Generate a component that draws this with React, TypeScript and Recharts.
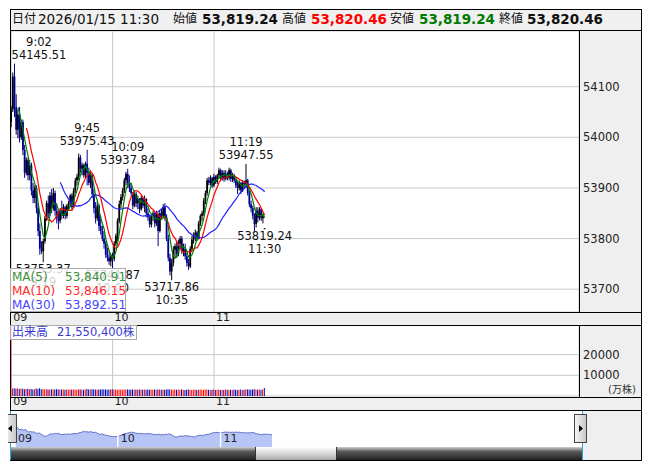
import React from "react";
import {
  ComposedChart,
  Bar,
  Line,
  XAxis,
  YAxis,
  CartesianGrid,
  ReferenceDot,
  ReferenceLine,
  Cell,
  AreaChart,
  Area,
} from "recharts";

// 1-minute candles from 9:00 to 11:30, [open, high, low, close]
const candles: [number, number, number, number][] = [
  [54030, 54062, 54020, 54055], [54055, 54128, 54050, 54120], [54120, 54145.51, 54040, 54060],
  [54060, 54085, 54005, 54015], [54015, 54055, 53998, 54045], [54045, 54060, 53990, 54000],
  [54000, 54035, 53995, 54030], [54030, 54035, 53965, 53975], [53975, 53985, 53920, 53930],
  [53930, 53960, 53925, 53955], [53955, 53960, 53915, 53925], [53925, 53955, 53915, 53945],
  [53945, 53950, 53885, 53895], [53895, 53910, 53870, 53880], [53880, 53905, 53870, 53900],
  [53900, 53905, 53850, 53860], [53860, 53870, 53805, 53815], [53815, 53830, 53768, 53780],
  [53780, 53795, 53770, 53775], [53775, 53800, 53753.37, 53795], [53795, 53845, 53790, 53840],
  [53840, 53875, 53835, 53870], [53870, 53885, 53840, 53850], [53850, 53892, 53845, 53885],
  [53885, 53898, 53850, 53860], [53860, 53900, 53855, 53890], [53890, 53895, 53845, 53855],
  [53855, 53870, 53830, 53840], [53840, 53855, 53818, 53835], [53835, 53860, 53830, 53855],
  [53855, 53875, 53838, 53845], [53845, 53868, 53840, 53862], [53862, 53865, 53838, 53845],
  [53845, 53868, 53840, 53865], [53865, 53875, 53858, 53870], [53870, 53888, 53862, 53885],
  [53885, 53890, 53855, 53862], [53862, 53900, 53860, 53895], [53895, 53920, 53890, 53915],
  [53915, 53928, 53905, 53922], [53922, 53968, 53915, 53960], [53960, 53965, 53930, 53938],
  [53938, 53950, 53925, 53945], [53945, 53948, 53920, 53925], [53925, 53952, 53920, 53948],
  [53948, 53975.43, 53905, 53930], [53930, 53940, 53905, 53910], [53910, 53935, 53900, 53925],
  [53925, 53928, 53880, 53888], [53888, 53898, 53850, 53860], [53860, 53872, 53830, 53840],
  [53840, 53875, 53835, 53865], [53865, 53868, 53815, 53825], [53825, 53845, 53808, 53815],
  [53815, 53825, 53795, 53800], [53800, 53815, 53780, 53790], [53790, 53795, 53762, 53768],
  [53768, 53782, 53755, 53762], [53762, 53775, 53748, 53755], [53755, 53770, 53745, 53765],
  [53765, 53772, 53741.87, 53760], [53760, 53795, 53755, 53790], [53790, 53810, 53785, 53805],
  [53805, 53840, 53795, 53835], [53835, 53875, 53830, 53868], [53868, 53888, 53860, 53882],
  [53882, 53900, 53875, 53895], [53895, 53920, 53890, 53915], [53915, 53932, 53905, 53928],
  [53928, 53937.84, 53900, 53910], [53910, 53925, 53892, 53900], [53900, 53910, 53885, 53890],
  [53890, 53892, 53858, 53865], [53865, 53895, 53862, 53888], [53888, 53892, 53862, 53870],
  [53870, 53885, 53858, 53878], [53878, 53880, 53850, 53858], [53858, 53885, 53855, 53880],
  [53880, 53882, 53860, 53865], [53865, 53885, 53852, 53878], [53878, 53880, 53842, 53850],
  [53850, 53860, 53835, 53842], [53842, 53848, 53822, 53828], [53828, 53848, 53822, 53845],
  [53845, 53855, 53835, 53850], [53850, 53852, 53822, 53830], [53830, 53855, 53825, 53848],
  [53848, 53850, 53785, 53815], [53815, 53855, 53812, 53850], [53850, 53858, 53840, 53845],
  [53845, 53868, 53840, 53862], [53862, 53870, 53835, 53842], [53842, 53848, 53795, 53800],
  [53800, 53808, 53755, 53762], [53762, 53770, 53727, 53735], [53735, 53760, 53717.86, 53752],
  [53752, 53785, 53745, 53778], [53778, 53790, 53760, 53785], [53785, 53795, 53762, 53770],
  [53770, 53798, 53765, 53790], [53790, 53805, 53780, 53800], [53800, 53805, 53770, 53775],
  [53775, 53790, 53765, 53780], [53780, 53790, 53758, 53765], [53765, 53772, 53745, 53752],
  [53752, 53760, 53738, 53745], [53745, 53785, 53742, 53780], [53780, 53805, 53775, 53798],
  [53798, 53812, 53790, 53808], [53808, 53818, 53795, 53812], [53812, 53815, 53795, 53800],
  [53800, 53835, 53798, 53830], [53830, 53848, 53825, 53845], [53845, 53855, 53835, 53850],
  [53850, 53880, 53845, 53875], [53875, 53895, 53868, 53890], [53890, 53920, 53885, 53915],
  [53915, 53922, 53905, 53910], [53910, 53925, 53905, 53920], [53920, 53922, 53900, 53905],
  [53905, 53928, 53902, 53922], [53922, 53925, 53908, 53912], [53912, 53928, 53908, 53925],
  [53925, 53940, 53918, 53935], [53935, 53938, 53915, 53920], [53920, 53935, 53915, 53930],
  [53930, 53935, 53912, 53918], [53918, 53935, 53915, 53928], [53928, 53932, 53915, 53920],
  [53920, 53940, 53915, 53935], [53935, 53938, 53912, 53918], [53918, 53930, 53912, 53925],
  [53925, 53928, 53910, 53915], [53915, 53918, 53900, 53905], [53905, 53912, 53888, 53900],
  [53900, 53915, 53895, 53910], [53910, 53912, 53888, 53895], [53895, 53915, 53892, 53910],
  [53910, 53915, 53898, 53907.7], [53907.7, 53947.55, 53900, 53915], [53915, 53918, 53885, 53890],
  [53890, 53895, 53862, 53867.9], [53867.9, 53875, 53852, 53860], [53860, 53865, 53838, 53845],
  [53845, 53850, 53815, 53829], [53829, 53862, 53822, 53855], [53855, 53862, 53832, 53841],
  [53841, 53862, 53836, 53858], [53858, 53860, 53835, 53840], [53840, 53850, 53830, 53845.1],
  [53819.24, 53820.46, 53819.24, 53820.46],
];

// volume per minute, 万株
const volumes: number[] = [
  60000, 3600, 3800, 3500, 3700, 3400, 3600, 3500, 3300, 3400,
  3500, 3300, 3400, 3200, 3300, 3600, 3400, 3700, 3300, 3400,
  3200, 3300, 3100, 3200, 3300, 3100, 3200, 3300, 3100, 3200,
  3100, 3200, 3000, 3100, 3200, 3000, 3100, 3200, 3100, 3000,
  3300, 3100, 3200, 3000, 3100, 3400, 3200, 3100, 3300, 3200,
  3100, 3000, 3200, 3100, 3300, 3100, 3200, 3000, 3100, 3200,
  3300, 3100, 3200, 3000, 3100, 3200, 3000, 3100, 3200, 3100,
  3000, 3100, 3200, 3000, 3100, 3000, 3100, 3200, 3000, 3100,
  3000, 3100, 3000, 3200, 3000, 3100, 3000, 3200, 3100, 3000,
  3100, 3000, 3200, 3300, 3100, 3200, 3000, 3100, 3000, 3100,
  3000, 3100, 3000, 2900, 3000, 3100, 3000, 2900, 3000, 3100,
  2900, 3000, 3100, 3000, 2900, 3100, 3200, 3000, 2900, 3000,
  3100, 2900, 3000, 3100, 2900, 3000, 2900, 3100, 3000, 2900,
  3000, 2900, 3100, 3000, 2900, 3000, 3100, 2900, 3000, 3300,
  3100, 3200, 3000, 3100, 3300, 3100, 3000, 3100, 3000, 3100,
  3900,
];

const priceTicks = [53700, 53800, 53900, 54000, 54100];
const volumeTicks = [10000, 20000];
const hourTicks = [0, 60, 120];
const hourLabels = ["09", "10", "11"];

// highs and lows called out on the price pane
const marks = [
  { m: 2, price: 54145.51, time: "9:02", side: "top" },
  { m: 19, price: 53753.37, time: "9:19", side: "bottom" },
  { m: 45, price: 53975.43, time: "9:45", side: "top" },
  { m: 60, price: 53741.87, time: "10:00", side: "bottom" },
  { m: 69, price: 53937.84, time: "10:09", side: "top" },
  { m: 95, price: 53717.86, time: "10:35", side: "bottom" },
  { m: 139, price: 53947.55, time: "11:19", side: "top" },
  { m: 150, price: 53819.24, time: "11:30", side: "bottom" },
];

const FONT = "'DejaVu Sans', 'Noto Sans CJK JP', sans-serif";

const closes = candles.map((c) => c[3]);
const sma = (n: number, i: number) => {
  if (i < n - 1) return null;
  let s = 0;
  for (let k = i - n + 1; k <= i; k++) s += closes[k];
  return s / n;
};

const rows = candles.map(([open, high, low, close], m) => ({
  m,
  open,
  high,
  low,
  close,
  range: [low, high],
  vol: volumes[m],
  volUp: m === 0 ? close >= open : close >= closes[m - 1],
  ma5: sma(5, m),
  ma10: sma(10, m),
  ma30: sma(30, m),
}));

const last = rows[rows.length - 1];
const fmt = (v: number | null) =>
  (v ?? 0).toLocaleString("en-US", { minimumFractionDigits: 2, maximumFractionDigits: 2 });

// page coordinates -> position inside #root (body margin 8px)
const box = (x: number, y: number, w: number, h: number): React.CSSProperties => ({
  position: "absolute",
  left: x - 8,
  top: y - 8,
  width: w,
  height: h,
});

const Candle = (props: any) => {
  const { x, y, width, height, payload } = props;
  const { open, high, low, close } = payload;
  const cx = x + width / 2;
  const k = high > low ? height / (high - low) : 0;
  const yo = y + (high - open) * k;
  const yc = y + (high - close) * k;
  const color = close >= open ? "#000000" : "#000090";
  return (
    <g>
      <line x1={cx} x2={cx} y1={y} y2={y + height} stroke={color} strokeWidth={1} />
      <rect x={cx - 0.9} y={Math.min(yo, yc)} width={1.8} height={Math.max(1, Math.abs(yo - yc))} fill={color} />
    </g>
  );
};

const PeakLabel = ({ cx, cy, price, time, side }: any) => {
  const text = price.toFixed(2);
  const x = Math.max(cx, text.length * 3.5 + 1);
  const lines: [string, number][] =
    side === "top" ? [[time, cy - 18], [text, cy - 5]] : [[text, cy + 11], [time, cy + 24]];
  return (
    <g>
      {lines.map(([s, ty]) => (
        <text key={s} x={x} y={ty} textAnchor="middle" fontSize={11.5} fill="#111" fontFamily={FONT}>
          {s}
        </text>
      ))}
    </g>
  );
};

const hourTick = (ty: number) => (p: any) => (
  <text x={p.x + 2} y={ty} fontSize={11} fill="#222" fontFamily={FONT}>
    {hourLabels[hourTicks.indexOf(p.payload.value)]}
  </text>
);

const rightTick = (p: any) => (
  <text x={573} y={p.y + 4} fontSize={11.5} fill="#222" fontFamily={FONT}>
    {p.payload.value}
  </text>
);

const hline = (x1: number, x2: number, y: number, key: string) => (
  <div key={key} style={{ ...box(x1, y, x2 - x1 + 1, 1), background: "#000" }} />
);
const vline = (x: number, y1: number, y2: number, key: string) => (
  <div key={key} style={{ ...box(x, y1, 1, y2 - y1 + 1), background: "#000" }} />
);

const Handle = ({ x, dir }: { x: number; dir: "left" | "right" }) => (
  <div
    style={{
      ...box(x, 414, 13, 29),
      background: "linear-gradient(to right, #f4f4f4, #c8c8c8)",
      border: "1px solid #444",
      boxSizing: "border-box",
    }}
  >
    <svg width={11} height={27}>
      <polygon points={dir === "left" ? "3,13.5 7,10 7,17" : "8,13.5 4,10 4,17"} fill="#000" />
    </svg>
  </div>
);

export default function App() {
  return (
    <div style={{ position: "relative", width: 645, height: 455, fontFamily: FONT }}>
      {/* panel backgrounds */}
      <div style={{ ...box(10, 9, 632, 22), background: "#f0f0f0" }} />
      <div style={{ ...box(579, 30, 63, 282), background: "#efefef" }} />
      <div style={{ ...box(10, 312, 632, 13), background: "#efefef" }} />
      <div style={{ ...box(579, 325, 63, 72), background: "#efefef" }} />
      <div style={{ ...box(10, 397, 632, 13), background: "#efefef" }} />
      <div style={{ ...box(582, 410, 60, 50), background: "#efefef" }} />

      {/* header quote */}
      <div style={{ ...box(10, 9, 632, 21), fontSize: 13.5, lineHeight: "21px", whiteSpace: "nowrap" }}>
        {[
          { x: 12, t: "日付", s: 12 },
          { x: 38, t: "2026/01/15 11:30", s: 13.5 },
          { x: 173, t: "始値", s: 12 },
          { x: 202, t: "53,819.24", s: 13.5, b: true, c: "#111" },
          { x: 282, t: "高値", s: 12 },
          { x: 311, t: "53,820.46", s: 13.5, b: true, c: "#ff0000" },
          { x: 390, t: "安値", s: 12 },
          { x: 419, t: "53,819.24", s: 13.5, b: true, c: "#007a00" },
          { x: 499, t: "終値", s: 12 },
          { x: 527, t: "53,820.46", s: 13.5, b: true, c: "#111" },
        ].map((h) => (
          <span
            key={h.x}
            style={{
              position: "absolute",
              left: h.x - 10,
              top: 0,
              fontSize: h.s,
              fontWeight: h.b ? "bold" : "normal",
              color: h.c ?? "#111",
            }}
          >
            {h.t}
          </span>
        ))}
      </div>

      {/* price pane */}
      <div style={box(10, 31, 631, 294)}>
        <ComposedChart width={631} height={294} data={rows} margin={{ top: 0, right: 0, bottom: 0, left: 0 }}>
          <CartesianGrid stroke="#c8c8c8" fill="#ffffff" />
          <XAxis
            dataKey="m"
            type="number"
            domain={[-0.71, 336]}
            allowDataOverflow
            ticks={hourTicks}
            interval={0}
            tickLine={false}
            axisLine={false}
            height={13}
            tick={hourTick(290)}
          />
          <YAxis
            orientation="right"
            width={62}
            domain={[53655, 54210]}
            allowDataOverflow
            ticks={priceTicks}
            interval={0}
            tickLine={false}
            axisLine={false}
            tick={rightTick}
          />
          <Bar dataKey="range" shape={Candle} barSize={2} isAnimationActive={false} />
          <Line dataKey="ma30" stroke="#2020ff" strokeWidth={1.2} dot={false} isAnimationActive={false} />
          <Line dataKey="ma10" stroke="#ff0000" strokeWidth={1.2} dot={false} isAnimationActive={false} />
          <Line dataKey="ma5" stroke="#008000" strokeWidth={1.2} dot={false} isAnimationActive={false} />
          {marks.map((p) => (
            <ReferenceDot
              key={p.time}
              x={p.m}
              y={p.price}
              r={0}
              ifOverflow="visible"
              shape={(s: any) => <PeakLabel cx={s.cx} cy={s.cy} price={p.price} time={p.time} side={p.side} />}
            />
          ))}
        </ComposedChart>
      </div>

      {/* volume pane */}
      <div style={box(10, 325, 631, 85)}>
        <ComposedChart width={631} height={85} data={rows} margin={{ top: 0, right: 0, bottom: 0, left: 0 }}>
          <CartesianGrid stroke="#c8c8c8" fill="#ffffff" />
          <XAxis
            dataKey="m"
            type="number"
            domain={[-0.71, 336]}
            allowDataOverflow
            ticks={hourTicks}
            interval={0}
            tickLine={false}
            axisLine={false}
            height={14}
            tick={hourTick(80)}
          />
          <YAxis
            orientation="right"
            width={62}
            domain={[0, 34300]}
            allowDataOverflow
            ticks={volumeTicks}
            interval={0}
            tickLine={false}
            axisLine={false}
            tick={rightTick}
          />
          <Bar dataKey="vol" barSize={1} isAnimationActive={false}>
            {rows.map((r) => (
              <Cell key={r.m} fill={r.volUp ? "#ff0000" : "#0000b0"} />
            ))}
          </Bar>
        </ComposedChart>
      </div>
      <div style={{ ...box(608, 384, 33, 12), fontSize: 10, color: "#333", lineHeight: "12px" }}>(万株)</div>

      {/* navigator */}
      <div style={{ ...box(10, 411, 572, 36), background: "#fff" }}>
        <AreaChart width={572} height={36} data={rows} margin={{ top: 0, right: 0, bottom: 0, left: 0 }}>
          <XAxis dataKey="m" type="number" domain={[-2.92, 331]} allowDataOverflow hide />
          <YAxis domain={[53366, 54730]} allowDataOverflow hide />
          <Area
            dataKey="close"
            type="linear"
            stroke="#6470c8"
            strokeWidth={1}
            fill="#b7c4f6"
            fillOpacity={1}
            isAnimationActive={false}
          />
          {hourTicks.map((t, i) => (
            <ReferenceLine
              key={t}
              x={t}
              stroke="#ffffff"
              strokeWidth={1.5}
              label={(lp: any) => (
                <text x={lp.viewBox.x + 3} y={31} fontSize={11} fill="#222" fontFamily={FONT}>
                  {hourLabels[i]}
                </text>
              )}
            />
          ))}
        </AreaChart>
      </div>

      {/* scrollbar */}
      <div style={{ ...box(10, 447, 572, 13), background: "linear-gradient(#d0d0d0, #5a5a5a 35%, #222 100%)" }} />
      <div
        style={{
          ...box(255, 447, 82, 13),
          background: "linear-gradient(#ffffff, #d8d8d8 50%, #a8a8a8)",
          borderLeft: "1px solid #333",
          borderRight: "1px solid #333",
          boxSizing: "border-box",
        }}
      />
      <div style={{ ...box(10, 411, 1, 49), background: "#29a8dc" }} />
      <div style={{ ...box(582, 411, 1, 49), background: "#29a8dc" }} />
      <Handle x={4} dir="left" />
      <Handle x={574} dir="right" />

      {/* frame lines */}
      {hline(10, 641, 9, "t")}
      {hline(10, 641, 30, "h1")}
      {hline(10, 641, 312, "h2")}
      {hline(10, 641, 325, "h3")}
      {hline(10, 641, 397, "h4")}
      {hline(10, 641, 410, "h5")}
      {hline(10, 641, 460, "b")}
      {vline(10, 9, 410, "l")}
      {vline(641, 9, 460, "r")}
      {vline(579, 30, 312, "a1")}
      {vline(579, 325, 397, "a2")}

      {/* moving average legend */}
      <div
        style={{
          ...box(10, 268, 116, 44),
          background: "rgba(255,255,255,0.8)",
          border: "1px solid #aaa",
          boxSizing: "border-box",
          fontSize: 12,
          lineHeight: "14px",
          paddingTop: 1,
        }}
      >
        {[
          { label: "MA(5)", v: last.ma5, c: "#3d8f3d" },
          { label: "MA(10)", v: last.ma10, c: "#ff2a2a" },
          { label: "MA(30)", v: last.ma30, c: "#4646ff" },
        ].map((r) => (
          <div key={r.label} style={{ position: "relative", height: 14, color: r.c }}>
            <span style={{ position: "absolute", left: 1 }}>{r.label}</span>
            <span style={{ position: "absolute", left: 54 }}>{fmt(r.v)}</span>
          </div>
        ))}
      </div>

      {/* volume caption */}
      <div
        style={{
          ...box(10, 325, 127, 15),
          background: "rgba(255,255,255,0.8)",
          border: "1px solid #aaa",
          boxSizing: "border-box",
          fontSize: 12,
          lineHeight: "13px",
          color: "#3a3ad0",
          whiteSpace: "nowrap",
        }}
      >
        <span style={{ position: "absolute", left: 1 }}>出来高</span>
        <span style={{ position: "absolute", left: 46, fontSize: 11.5 }}>21,550,400株</span>
      </div>
    </div>
  );
}
